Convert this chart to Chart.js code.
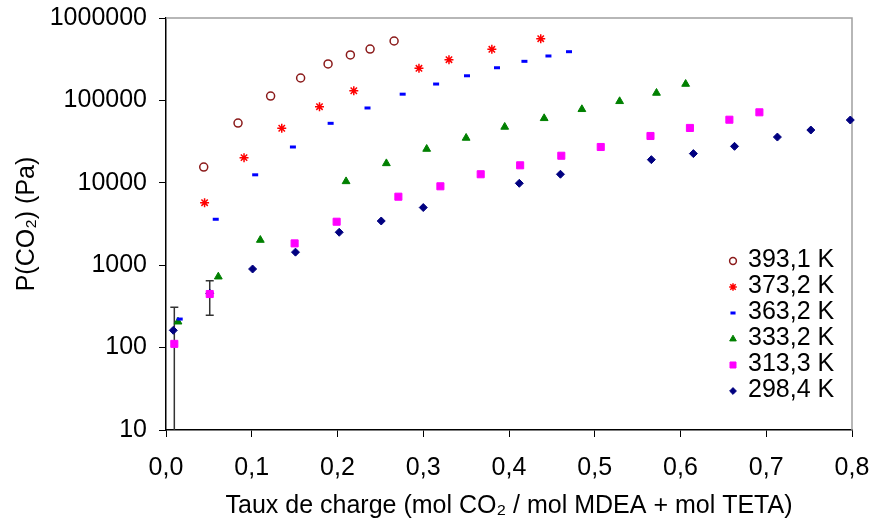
<!DOCTYPE html>
<html>
<head>
<meta charset="utf-8">
<script src="https://cdn.jsdelivr.net/npm/chart.js"></script>
<style>
	body { margin: 0; background: #fff; }
	canvas { display: block; }
</style>
</head>
<body>
<canvas id="chart" width="872" height="521"></canvas>
<script>
// P(CO2) vs loading, one pair of arrays per temperature
var names = ['393,1 K', '373,2 K', '363,2 K', '333,2 K', '313,3 K', '298,4 K'];

var x393 = [0.044, 0.084, 0.122, 0.157, 0.189, 0.215, 0.238, 0.266];
var p393 = [15500, 53000, 113000, 187000, 277000, 356000, 420000, 526000];

var x373 = [0.045, 0.091, 0.135, 0.179, 0.219, 0.295, 0.330, 0.380, 0.437];
var p373 = [5740, 20200, 45900, 83900, 131000, 245000, 312000, 417000, 561000];

var x363 = [0.016, 0.058, 0.104, 0.148, 0.192, 0.235, 0.276, 0.315, 0.351, 0.386, 0.418, 0.446, 0.470];
var p363 = [222, 3610, 12500, 27200, 52700, 80900, 119000, 158000, 199000, 249000, 298000, 346000, 390000];

var x333 = [0.014, 0.061, 0.110, 0.210, 0.257, 0.304, 0.350, 0.395, 0.441, 0.485, 0.529, 0.572, 0.606];
var p333 = [206, 725, 2020, 10400, 17200, 25700, 35000, 47600, 60600, 78000, 97500, 123000, 158000];

var x313 = [0.0097, 0.051, 0.150, 0.199, 0.271, 0.320, 0.367, 0.413, 0.461, 0.507, 0.565, 0.611, 0.657, 0.692];
var p313 = [111, 447, 1840, 3370, 6780, 9070, 12700, 16300, 21300, 27200, 37000, 46300, 58300, 71700];

var x298 = [0.0085, 0.051, 0.101, 0.151, 0.202, 0.251, 0.300, 0.412, 0.460, 0.566, 0.615, 0.663, 0.713, 0.752, 0.798];
var p298 = [162, 456, 899, 1440, 2510, 3440, 5010, 9860, 12700, 19100, 22600, 27700, 35900, 43700, 57800];

// error bars (313,3 K series)
var errX = [0.0097, 0.051];
var errY = [111, 447];
var errD = [197, 200];

var xTicks = [0, 0.1, 0.2, 0.3, 0.4, 0.5, 0.6, 0.7, 0.8];
var yTicks = [10, 100, 1000, 10000, 100000, 1000000];

function pts(xs, ys) {
	return xs.map(function(x, i) { return {x: x, y: ys[i]}; });
}

function series(i, xs, ys, style) {
	var d = {
		label: names[i],
		data: pts(xs, ys),
		showLine: false,
		clip: false
	};
	for (var k in style) d[k] = style[k];
	return d;
}

// keep tick labels from pushing the plot area around
function noPad(s) {
	s.paddingLeft = 0;
	s.paddingRight = 0;
	s.paddingTop = 0;
	s.paddingBottom = 0;
}

var frame = {
	id: 'frame',
	beforeDatasetsDraw: function(chart) {
		var a = chart.chartArea, c = chart.ctx;
		var xs = chart.scales.x, ys = chart.scales.y;
		c.save();
		c.strokeStyle = '#a0a0a0';
		c.lineWidth = 1.5;
		c.beginPath();
		c.moveTo(a.left, a.top);
		c.lineTo(a.right, a.top);
		c.lineTo(a.right, a.bottom);
		c.stroke();

		c.strokeStyle = '#333';
		c.lineWidth = 1.5;
		for (var i = 0; i < errX.length; i++) {
			var px = xs.getPixelForValue(errX[i]);
			var top = ys.getPixelForValue(errY[i] + errD[i]);
			var lo = errY[i] - errD[i];
			var bot = lo > 10 ? ys.getPixelForValue(lo) : a.bottom;
			c.beginPath();
			c.moveTo(px, top);
			c.lineTo(px, bot);
			c.moveTo(px - 4, top);
			c.lineTo(px + 4, top);
			if (lo > 10) {
				c.moveTo(px - 4, bot);
				c.lineTo(px + 4, bot);
			}
			c.stroke();
		}
		c.restore();
	},
	afterDraw: function(chart) {
		var c = chart.ctx;
		c.save();
		c.font = '25px "Liberation Sans", Arial, sans-serif';
		c.textBaseline = 'middle';
		chart.data.datasets.forEach(function(ds, i) {
			var y = 260 + i * 26;
			c.fillStyle = ds.backgroundColor;
			c.strokeStyle = ds.borderColor;
			c.lineWidth = ds.borderWidth;
			Chart.helpers.drawPoint(c, {
				pointStyle: ds.pointStyle,
				radius: ds.pointRadius * 0.85,
				rotation: 0,
				borderWidth: ds.borderWidth
			}, 733, y + 1);
			c.fillStyle = '#000';
			c.fillText(ds.label, 748, y);
		});
		c.restore();
	}
};

window.onload = function() {
	Chart.defaults.font.family = '"Liberation Sans", Arial, sans-serif';
	Chart.defaults.font.size = 25;
	Chart.defaults.color = '#000';

	var datasets = [
		series(0, x393, p393, {pointStyle: 'circle', pointRadius: 4, borderColor: '#8b1a1a', backgroundColor: 'rgba(0,0,0,0)', borderWidth: 1.5}),
		series(1, x373, p373, {pointStyle: 'star', pointRadius: 4.5, borderColor: '#ff0000', backgroundColor: 'rgba(0,0,0,0)', borderWidth: 1.5}),
		series(2, x363, p363, {pointStyle: 'line', pointRadius: 3, borderColor: '#0000ff', backgroundColor: '#0000ff', borderWidth: 3}),
		series(3, x333, p333, {pointStyle: 'triangle', pointRadius: 4.5, borderColor: '#008000', backgroundColor: '#008000', borderWidth: 1}),
		series(4, x313, p313, {pointStyle: 'rect', pointRadius: 5, borderColor: '#ff00ff', backgroundColor: '#ff00ff', borderWidth: 1}),
		series(5, x298, p298, {pointStyle: 'rectRot', pointRadius: 4, borderColor: '#000080', backgroundColor: '#000080', borderWidth: 1})
	];

	new Chart(document.getElementById('chart'), {
		type: 'scatter',
		data: {datasets: datasets},
		options: {
			responsive: false,
			animation: false,
			layout: {padding: {top: 18, right: 20, left: 0, bottom: 0}},
			plugins: {legend: {display: false}, tooltip: {enabled: false}},
			elements: {point: {hoverRadius: 4}},
			scales: {
				x: {
					type: 'linear',
					min: 0,
					max: 0.8,
					afterBuildTicks: function(s) { s.ticks = xTicks.map(function(v) { return {value: v}; }); },
					afterFit: function(s) { s.height = 91; noPad(s); },
					ticks: {
						padding: 16,
						maxRotation: 0,
						autoSkip: false,
						callback: function(v) { return v.toFixed(1).replace('.', ','); }
					},
					grid: {drawOnChartArea: false, tickLength: 7, color: '#000'},
					border: {color: '#000', width: 1.5},
					title: {display: true, text: 'Taux de charge (mol CO₂ / mol MDEA + mol TETA)', padding: {top: 0, bottom: 0}}
				},
				y: {
					type: 'logarithmic',
					min: 10,
					max: 1000000,
					afterBuildTicks: function(s) { s.ticks = yTicks.map(function(v) { return {value: v}; }); },
					afterFit: function(s) { s.width = 166; noPad(s); },
					ticks: {
						padding: 12,
						callback: function(v) { return String(v); }
					},
					grid: {drawOnChartArea: false, tickLength: 7, color: '#000'},
					border: {color: '#000', width: 1.5},
					title: {display: true, text: 'P(CO₂) (Pa)', padding: {top: 12, bottom: 0}}
				}
			}
		},
		plugins: [frame]
	});
};
</script>
</body>
</html>
